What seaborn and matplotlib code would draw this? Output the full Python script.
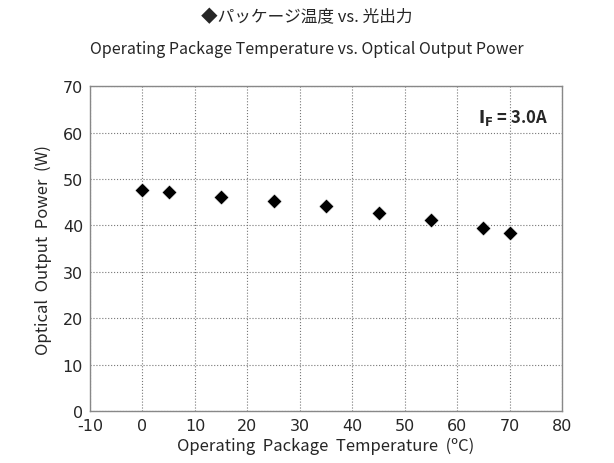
import numpy as np
import matplotlib
matplotlib.use("Agg")
import matplotlib.pyplot as plt
import seaborn as sns

temps = [0, 5, 15, 25, 35, 45, 55, 65, 70]
power = [47.7, 47.3, 46.2, 45.2, 44.1, 42.6, 41.2, 39.4, 38.3]

sns.set_style("white")
plt.rcParams["font.family"] = ["Noto Sans CJK JP", "DejaVu Sans"]
plt.rcParams["axes.unicode_minus"] = False

fig = plt.figure(figsize=(6.14, 4.64), dpi=100)
ax = fig.add_axes([0.1466, 0.112, 0.769, 0.700])

sns.scatterplot(x=temps, y=power, marker="D", s=60, color="black", ax=ax, zorder=3)

ax.set_xlim(-10, 80)
ax.set_ylim(0, 70)
ax.set_xticks(np.arange(-10, 81, 10))
ax.set_yticks(np.arange(0, 71, 10))
ax.grid(True, linestyle=":", color="#777777", linewidth=0.8)
for s in ax.spines.values():
    s.set_color("#888888")
    s.set_linewidth(1)
ax.tick_params(labelsize=12.5, length=0, pad=5)
for t in ax.get_xticklabels() + ax.get_yticklabels():
    t.set_family(["DejaVu Sans"])
    t.set_fontsize(11.5)

ax.set_xlabel("Operating  Package  Temperature  (ºC)", fontsize=12, labelpad=3)
ax.set_ylabel("Optical  Output  Power  (W)", fontsize=12, labelpad=8)

fig.text(0.5, 0.962, "◆パッケージ温度 vs. 光出力", ha="center", va="center", fontsize=12)
fig.text(0.5, 0.893, "Operating Package Temperature vs. Optical Output Power",
         ha="center", va="center", fontsize=11.5)
ax.text(0.97, 0.935, r"$\mathbf{I_F}$ = 3.0A", transform=ax.transAxes,
        ha="right", va="top", fontsize=12, fontweight="bold")

fig.savefig("out.png", dpi=100)
